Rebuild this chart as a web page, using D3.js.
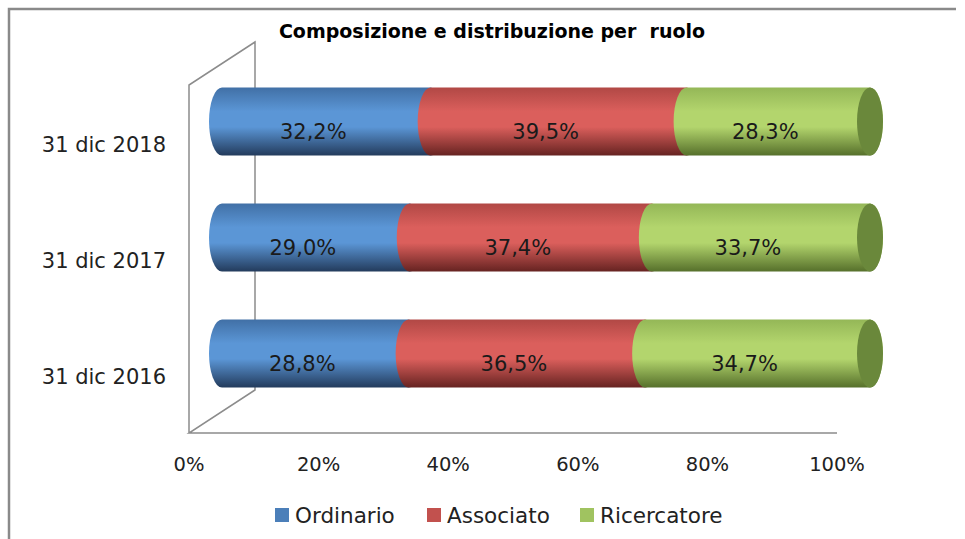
<!DOCTYPE html>
<html>
<head>
<meta charset="utf-8">
<script src="https://cdn.jsdelivr.net/npm/d3@7"></script>
<style>
  body { margin: 0; background: #fff; }
  svg { display: block; font-family: "DejaVu Sans", sans-serif; }
</style>
</head>
<body>
<svg id="chart"></svg>
<script>
// data
let categories = ['31 dic 2016', '31 dic 2017', '31 dic 2018'];
let ordinario = [28.8, 29.0, 32.2];
let associato = [36.5, 37.4, 39.5];
let ricercatore = [34.7, 33.7, 28.3];
let seriesNames = ['Ordinario', 'Associato', 'Ricercatore'];
let tickValues = [0, 20, 40, 60, 80, 100];

let width = 965;
let height = 539;

// front plane of the 3d box
let boxLeft = 189, boxRight = 837, boxTop = 85, boxBottom = 433;
let depthX = 66, depthY = -43;
// bars sit half way into the box
let midX = depthX / 2, midY = depthY / 2;
let barH = 68, capRx = 13;

let colors = {
    Ordinario:   {top: '#4170a6', mid: '#5b96d6', bot: '#233b5c', cap: '#3a5f8c'},
    Associato:   {top: '#b14845', mid: '#db5f5c', bot: '#662321', cap: '#8e3634'},
    Ricercatore: {top: '#94b757', mid: '#b3d56d', bot: '#56702b', cap: '#6a883b'}
};

let svg = d3.select('#chart').attr('width', width).attr('height', height);

let rows = categories.map((c, i) => ({
    cat: c,
    Ordinario: ordinario[i],
    Associato: associato[i],
    Ricercatore: ricercatore[i]
}));

let stacked = d3.stack().keys(seriesNames).offset(d3.stackOffsetExpand)(rows);

let xScale = d3.scaleLinear().domain([0, 1]).range([boxLeft, boxRight]);
let yScale = d3.scaleBand()
    .domain(categories.slice().reverse())
    .range([boxTop, boxBottom]);

/*gradients for the cylinders*/
let defs = svg.append('defs');
seriesNames.forEach((s, i) => {
    let g = defs.append('linearGradient')
        .attr('id', 'grad' + i)
        .attr('x1', 0).attr('y1', 0).attr('x2', 0).attr('y2', 1);
    g.append('stop').attr('offset', '0%').attr('stop-color', colors[s].top);
    g.append('stop').attr('offset', '35%').attr('stop-color', colors[s].mid);
    g.append('stop').attr('offset', '58%').attr('stop-color', colors[s].mid);
    g.append('stop').attr('offset', '100%').attr('stop-color', colors[s].bot);
});

/*outer frame*/
svg.append('path')
    .attr('d', 'M9,' + height + ' L9,9 L956,9')
    .attr('fill', 'none')
    .attr('stroke', '#8a8a8a')
    .attr('stroke-width', 2.5);

/*title*/
svg.append('text')
    .attr('x', 492).attr('y', 38)
    .attr('text-anchor', 'middle')
    .attr('font-weight', 'bold')
    .attr('font-size', 19)
    .attr('fill', '#000')
    .attr('xml:space', 'preserve')
    .text('Composizione e distribuzione per  ruolo');

/*side wall and floor edge*/
let walls = svg.append('g')
    .attr('fill', 'none')
    .attr('stroke', '#8c8c8c')
    .attr('stroke-width', 1.5);
walls.append('path')
    .attr('d', 'M' + boxLeft + ',' + boxBottom + ' L' + boxLeft + ',' + boxTop +
               ' L' + (boxLeft + depthX) + ',' + (boxTop + depthY) +
               ' L' + (boxLeft + depthX) + ',' + (boxBottom + depthY) +
               ' L' + boxLeft + ',' + boxBottom +
               ' L' + boxRight + ',' + boxBottom);

/*cylinder segments*/
let segPath = (x0, x1, yc) => {
    let t = yc - barH / 2, b = yc + barH / 2, ry = barH / 2;
    return 'M' + x0 + ',' + t +
           ' A' + capRx + ',' + ry + ' 0 0 0 ' + x0 + ',' + b +
           ' L' + x1 + ',' + b +
           ' A' + capRx + ',' + ry + ' 0 0 0 ' + x1 + ',' + t + ' Z';
};

let barY = (d) => yScale(d.data.cat) + yScale.bandwidth() / 2 + midY;

stacked.forEach((layer, i) => {
    let g = svg.append('g').attr('class', 'series');
    g.selectAll('path')
        .data(layer)
        .enter()
        .append('path')
        .attr('d', (d) => segPath(xScale(d[0]) + midX, xScale(d[1]) + midX, barY(d)))
        .attr('fill', 'url(#grad' + i + ')');
    if (i === stacked.length - 1) {
        g.selectAll('ellipse')
            .data(layer)
            .enter()
            .append('ellipse')
            .attr('cx', (d) => xScale(d[1]) + midX)
            .attr('cy', (d) => barY(d))
            .attr('rx', capRx)
            .attr('ry', barH / 2)
            .attr('fill', colors[layer.key].cap);
    }
});

/*data labels*/
stacked.forEach((layer) => {
    svg.append('g').selectAll('text')
        .data(layer)
        .enter()
        .append('text')
        .attr('x', (d) => (xScale(d[0]) + xScale(d[1])) / 2 + midX - capRx)
        .attr('y', (d) => barY(d) + 17)
        .attr('text-anchor', 'middle')
        .attr('font-size', 21)
        .attr('fill', '#1a1a1a')
        .text((d) => d.data[layer.key].toFixed(1).replace('.', ',') + '%');
});

/*category labels on the side wall*/
svg.append('g').selectAll('text')
    .data(categories)
    .enter()
    .append('text')
    .attr('x', 166)
    .attr('y', (c) => yScale(c) + yScale.bandwidth() / 2 + 9)
    .attr('text-anchor', 'end')
    .attr('font-size', 21)
    .attr('fill', '#222')
    .text((c) => c);

/*x tick labels*/
let tickScale = d3.scaleLinear().domain([0, 100]).range([boxLeft, boxRight]);
svg.append('g').selectAll('text')
    .data(tickValues)
    .enter()
    .append('text')
    .attr('x', (v) => tickScale(v))
    .attr('y', 471)
    .attr('text-anchor', 'middle')
    .attr('font-size', 19.5)
    .attr('fill', '#222')
    .text((v) => v + '%');

/*legend*/
let legendX = [275, 427, 580];
let legend = svg.append('g').selectAll('g')
    .data(seriesNames)
    .enter()
    .append('g')
    .attr('transform', (s, i) => 'translate(' + legendX[i] + ',508)');
legend.append('rect')
    .attr('width', 14).attr('height', 14)
    .attr('fill', (s) => d3.interpolateRgb(colors[s].mid, colors[s].top)(0.6));
legend.append('text')
    .attr('x', 20).attr('y', 14.5)
    .attr('font-size', 21.5)
    .attr('fill', '#222')
    .text((s) => s);
</script>
</body>
</html>
